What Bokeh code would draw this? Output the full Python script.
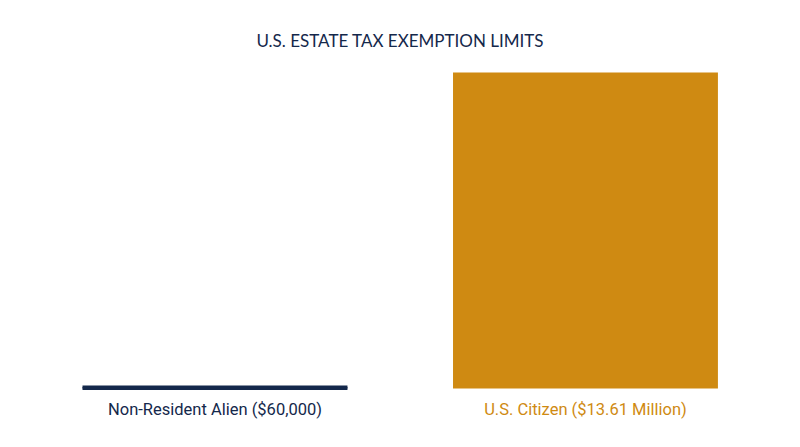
from bokeh.plotting import figure
from bokeh.models import Range1d, ColumnDataSource
from bokeh.core.properties import value
from bokeh.embed import file_html
from bokeh.resources import INLINE

# Data
categories = ["Non-Resident Alien ($60,000)", "U.S. Citizen ($13.61 Million)"]
exemptions = [60000, 13610000]
title_text = "U.S. ESTATE TAX EXEMPTION LIMITS"

NAVY = "#14284b"
GOLD = "#cf8a12"
colors = [NAVY, GOLD]

xs = list(range(len(categories)))
src = ColumnDataSource(dict(x=xs, top=exemptions, color=colors, label=categories))

p = figure(width=784, height=431, output_backend="svg", toolbar_location=None,
           min_border=0, outline_line_color=None, background_fill_color="white",
           border_fill_color="white")
p.x_range = Range1d(-0.5789, 1.5372)
p.y_range = Range1d(-1.852e6, 16.711e6)
p.axis.visible = False
p.grid.visible = False

p.vbar(x="x", top="top", bottom=0, width=0.715, fill_color="color",
       line_color=None, source=src)
# thin navy bar gets a visible outline so it reads as a line
p.vbar(x=[xs[0]], top=[exemptions[0]], bottom=0, width=0.707,
       fill_color=NAVY, line_color=NAVY, line_width=3, line_join="miter")

p.text(x="x", y=0, text="label", text_color="color", source=src,
       text_font=value("Roboto"), text_font_size="16.5px",
       text_align="center", text_baseline="middle", y_offset=21)

p.text(x=[0.5], y=[16.711e6], text=[title_text], text_color=NAVY,
       text_font=value("Lato"), text_font_size="17px",
       text_align="center", text_baseline="middle", y_offset=40)

open("out.html", "w").write(file_html(p, INLINE))
